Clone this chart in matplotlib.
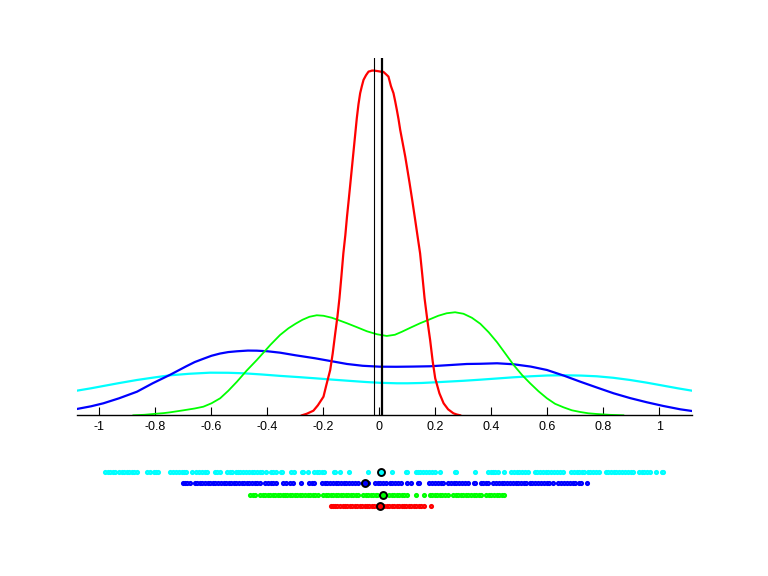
import matplotlib
matplotlib.use("Agg")
import matplotlib.pyplot as plt
from matplotlib.ticker import FixedLocator, FixedFormatter

plt.rcParams['font.family'] = ['Liberation Sans', 'DejaVu Sans']
plt.rcParams['axes.unicode_minus'] = False

# ---- density curves (x, density) ----
cyan_x = [-1.081, -1.03, -0.986, -0.93, -0.866, -0.80, -0.747, -0.68, -0.605, -0.54, -0.486, -0.42, -0.355,
          -0.29, -0.23, -0.17, -0.116, -0.05, 0.0, 0.062, 0.10, 0.15, 0.20, 0.24, 0.30, 0.36, 0.42, 0.479,
          0.54, 0.60, 0.657, 0.72, 0.776, 0.835, 0.895, 0.955, 1.014, 1.065, 1.116]
cyan_y = [0.246, 0.270, 0.293, 0.322, 0.353, 0.380, 0.400, 0.415, 0.426, 0.425, 0.420, 0.408, 0.394,
          0.382, 0.370, 0.357, 0.346, 0.333, 0.325, 0.320, 0.320, 0.323, 0.330, 0.336, 0.345, 0.356, 0.368, 0.380,
          0.390, 0.398, 0.400, 0.397, 0.390, 0.375, 0.353, 0.326, 0.296, 0.270, 0.246]

blue_x = [-1.081, -1.03, -0.986, -0.93, -0.866, -0.81, -0.747, -0.69, -0.66, -0.629, -0.60, -0.57, -0.54,
          -0.509, -0.47, -0.438, -0.40, -0.355, -0.30, -0.23, -0.17, -0.116, -0.06, 0.0, 0.06, 0.12, 0.18,
          0.25, 0.312, 0.36, 0.42, 0.479, 0.54, 0.598, 0.66, 0.717, 0.776, 0.836, 0.895, 0.955, 1.014,
          1.074, 1.116]
blue_y = [0.063, 0.090, 0.120, 0.170, 0.236, 0.320, 0.406, 0.490, 0.532, 0.565, 0.595, 0.617, 0.632,
          0.640, 0.647, 0.646, 0.640, 0.626, 0.600, 0.570, 0.540, 0.513, 0.495, 0.486, 0.485, 0.487, 0.490,
          0.502, 0.513, 0.515, 0.520, 0.510, 0.487, 0.453, 0.395, 0.336, 0.278, 0.220, 0.172, 0.130, 0.093,
          0.060, 0.043]

green_x = [-0.879, -0.84, -0.80, -0.77, -0.747, -0.70, -0.66, -0.629, -0.60, -0.569, -0.54, -0.509, -0.475,
           -0.438, -0.41, -0.39, -0.355, -0.325, -0.30, -0.275, -0.25, -0.224, -0.20, -0.17, -0.14, -0.116,
           -0.08, -0.045, -0.009, 0.026, 0.055, 0.08, 0.11, 0.145, 0.18, 0.21, 0.24, 0.27, 0.30, 0.33, 0.36,
           0.39, 0.42, 0.45, 0.479, 0.51, 0.538, 0.568, 0.598, 0.627, 0.657, 0.687, 0.717, 0.746, 0.776,
           0.82, 0.871]
green_y = [0.0, 0.005, 0.015, 0.022, 0.030, 0.050, 0.068, 0.086, 0.120, 0.170, 0.245, 0.336, 0.445,
           0.553, 0.640, 0.703, 0.803, 0.870, 0.915, 0.955, 0.985, 1.000, 0.995, 0.975, 0.945, 0.920,
           0.880, 0.840, 0.810, 0.793, 0.805, 0.835, 0.875, 0.920, 0.960, 0.995, 1.020, 1.030, 1.015, 0.975, 0.915,
           0.830, 0.730, 0.615, 0.503, 0.400, 0.320, 0.240, 0.170, 0.115, 0.080, 0.050, 0.033, 0.020, 0.013,
           0.005, 0.0]

red_x = [-0.277, -0.26, -0.236, -0.22, -0.2, -0.19, -0.176, -0.167, -0.158, -0.15, -0.143, -0.136, -0.129,
         -0.122, -0.116, -0.11, -0.105, -0.099, -0.093, -0.087, -0.081, -0.075, -0.069, -0.063, -0.057,
         -0.048, -0.039, -0.033, -0.027, -0.02, -0.005, 0.005, 0.014, 0.023, 0.032, 0.041, 0.05, 0.056,
         0.062, 0.068, 0.074, 0.083, 0.092, 0.1, 0.107, 0.117, 0.1275, 0.136, 0.145, 0.153, 0.161, 0.171,
         0.181, 0.19, 0.199, 0.214, 0.229, 0.245, 0.264, 0.276, 0.288]
red_y = [0.0, 0.015, 0.046, 0.100, 0.186, 0.300, 0.453, 0.620, 0.820, 0.990, 1.170, 1.390, 1.620,
         1.800, 1.986, 2.150, 2.290, 2.460, 2.630, 2.800, 2.970, 3.110, 3.220, 3.290, 3.353,
         3.400, 3.436, 3.440, 3.446, 3.446, 3.440, 3.435, 3.433, 3.410, 3.386, 3.290, 3.220, 3.140,
         3.053, 2.960, 2.853, 2.720, 2.586, 2.450, 2.330, 2.150, 1.953, 1.790, 1.620, 1.400, 1.170, 0.950,
         0.750, 0.540, 0.370, 0.220, 0.120, 0.060, 0.020, 0.008, 0.0]

# reference vertical lines
thin_line_x = -0.021
thick_line_x = 0.008

# ---- raw samples (dot strips) ----
cyan_pts = [-0.979, -0.970, -0.962, -0.951, -0.943, -0.932, -0.921, -0.914, -0.903, -0.894, -0.885, -0.876, -0.866,
            -0.829, -0.818, -0.806, -0.797, -0.792,
            -0.747, -0.738, -0.727, -0.716, -0.706, -0.699, -0.692,
            -0.668, -0.657, -0.646, -0.634, -0.624, -0.616,
            -0.588, -0.580, -0.571,
            -0.543, -0.534, -0.525, -0.514, -0.505, -0.497, -0.486, -0.477, -0.466, -0.455, -0.447, -0.437,
            -0.428, -0.418, -0.407,
            -0.388, -0.380, -0.371, -0.350, -0.347, -0.317, -0.305, -0.275, -0.273, -0.254,
            -0.233, -0.224, -0.215, -0.206, -0.198, -0.162, -0.160, -0.140, -0.109, -0.040,
            0.044, 0.094, 0.099,
            0.129, 0.138, 0.146, 0.156, 0.165, 0.176, 0.186, 0.197, 0.215, 0.270, 0.274, 0.342,
            0.389, 0.397, 0.406, 0.414, 0.424, 0.443,
            0.471, 0.480, 0.490, 0.499, 0.508, 0.519, 0.530,
            0.554, 0.563, 0.574, 0.584, 0.594, 0.603, 0.613, 0.624, 0.634, 0.645, 0.655,
            0.685, 0.694, 0.704, 0.713, 0.722, 0.731, 0.743, 0.752, 0.763, 0.774, 0.783,
            0.808, 0.817, 0.826, 0.837, 0.846, 0.857, 0.866, 0.877, 0.888, 0.897, 0.905,
            0.927, 0.936, 0.946, 0.957, 0.965, 0.986, 1.010, 1.012]

blue_pts = [-0.703, -0.695, -0.686, -0.678,
            -0.660, -0.651, -0.642, -0.633, -0.623, -0.614, -0.604, -0.595, -0.586, -0.577, -0.567, -0.557,
            -0.548, -0.538, -0.530, -0.521, -0.511, -0.502, -0.492, -0.483, -0.474, -0.465, -0.455, -0.446,
            -0.437, -0.428,
            -0.410, -0.399, -0.388, -0.380, -0.371,
            -0.343, -0.333, -0.321, -0.309, -0.281, -0.251, -0.240, -0.234,
            -0.204, -0.195, -0.186, -0.175, -0.166, -0.156, -0.147, -0.137, -0.127, -0.118, -0.108, -0.099,
            -0.088, -0.077, -0.058, -0.049, -0.041,
            -0.016, -0.006, 0.003, 0.014, 0.025, 0.036, 0.045, 0.055, 0.066, 0.078,
            0.100, 0.111, 0.136, 0.140,
            0.177, 0.187, 0.198, 0.209, 0.219, 0.227,
            0.246, 0.255, 0.265, 0.274, 0.284, 0.293, 0.304, 0.316, 0.338, 0.342,
            0.362, 0.371, 0.380, 0.387,
            0.407, 0.417, 0.427, 0.436, 0.446, 0.455, 0.466, 0.476, 0.486, 0.495, 0.506, 0.515, 0.525,
            0.536, 0.546, 0.556, 0.566, 0.576, 0.586, 0.597, 0.607, 0.620,
            0.638, 0.648, 0.658, 0.668, 0.679, 0.690, 0.700, 0.711, 0.721, 0.741]

green_pts = [-0.462, -0.451, -0.444,
             -0.426, -0.417, -0.408, -0.399, -0.390, -0.382, -0.373, -0.364, -0.355, -0.346, -0.338, -0.329,
             -0.320, -0.311, -0.302, -0.293, -0.284, -0.275, -0.266, -0.257, -0.248, -0.239, -0.230, -0.220,
             -0.201, -0.192, -0.183, -0.174, -0.165, -0.156, -0.147, -0.138, -0.129, -0.120, -0.111, -0.102,
             -0.093, -0.084, -0.077,
             -0.058, -0.049, -0.040, -0.031, -0.022, -0.014, -0.008,
             0.034, 0.043, 0.052, 0.061, 0.070, 0.080, 0.089, 0.099, 0.131, 0.158,
             0.179, 0.188, 0.197, 0.206, 0.215, 0.225, 0.235, 0.245,
             0.263, 0.272, 0.281, 0.290, 0.299, 0.308, 0.317, 0.326, 0.336, 0.345, 0.354, 0.363,
             0.382, 0.391, 0.400, 0.409, 0.418, 0.428, 0.436, 0.443]

red_pts = [-0.174, -0.165, -0.158, -0.150, -0.141, -0.132, -0.123, -0.115, -0.106, -0.097, -0.088, -0.080,
           -0.071, -0.062, -0.053, -0.045, -0.036, -0.027, -0.018, -0.010, -0.001, 0.008, 0.017, 0.026,
           0.035, 0.043, 0.052, 0.061, 0.070, 0.079, 0.087, 0.096, 0.105, 0.114, 0.123, 0.131, 0.140,
           0.149, 0.158, 0.183]

means = {'cyan': 0.006, 'blue': -0.05, 'lime': 0.014, 'red': 0.002}

tick_vals = [-1, -0.8, -0.6, -0.4, -0.2, 0, 0.2, 0.4, 0.6, 0.8, 1]
tick_labels = ['-1', '-0.8', '-0.6', '-0.4', '-0.2', '0', '0.2', '0.4', '0.6', '0.8', '1']

XLIM = (-1.081, 1.116)

fig = plt.figure(figsize=(7.68, 5.76), dpi=100)
ax = fig.add_axes([0.1, 0.279, 0.801, 0.620])
ax.set_xlim(*XLIM)
ax.set_ylim(0, 3.57)

ax.plot(cyan_x, cyan_y, color=(0, 1, 1), lw=1.6)
ax.plot(blue_x, blue_y, color=(0, 0, 1), lw=1.6)
ax.plot(green_x, green_y, color=(0, 1, 0), lw=1.3)
ax.plot(red_x, red_y, color=(1, 0, 0), lw=1.6)
ax.axvline(thin_line_x, color='black', lw=0.8)
ax.axvline(thick_line_x, color='black', lw=1.6)

for s in ['top', 'left', 'right']:
    ax.spines[s].set_visible(False)
ax.spines['bottom'].set_linewidth(1.0)
ax.set_yticks([])
ax.xaxis.set_major_locator(FixedLocator(tick_vals))
ax.xaxis.set_major_formatter(FixedFormatter(tick_labels))
ax.tick_params(axis='x', direction='in', length=5.5, width=0.8, pad=4, labelsize=9)

# dot strips
ax2 = fig.add_axes([0.1, 0.0, 0.801, 0.279])
ax2.set_xlim(*XLIM)
ax2.set_ylim(576, 415.3)
ax2.axis('off')

rows = [(cyan_pts, (0, 1, 1), means['cyan'], 472.3),
        (blue_pts, (0, 0, 1), means['blue'], 483.3),
        (green_pts, (0, 1, 0), means['lime'], 495.3),
        (red_pts, (1, 0, 0), means['red'], 506.3)]
for pts, col, m, yrow in rows:
    ax2.plot(pts, [yrow] * len(pts), linestyle='none', marker='o', ms=2.1, mew=1.6,
             mfc='white', mec=col)
    ax2.plot([m], [yrow], linestyle='none', marker='o', ms=5.0, mew=1.4, mfc=col, mec='black')

fig.savefig('out.png', dpi=100)
